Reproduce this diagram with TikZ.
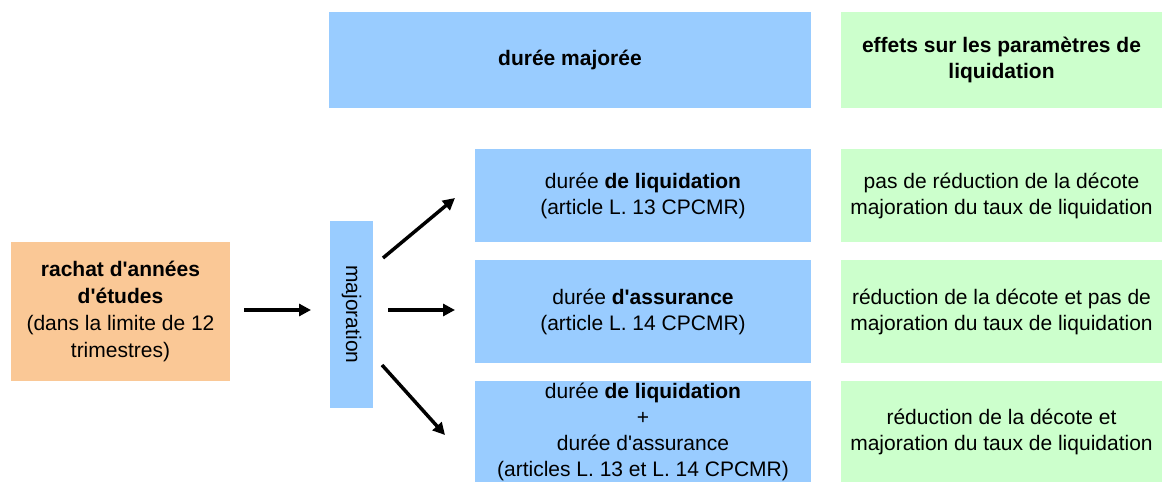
\documentclass[tikz,border=0pt]{standalone}
\usepackage{fontspec}
\setmainfont{Liberation Sans}
\usetikzlibrary{arrows.meta}
\definecolor{bleu}{RGB}{153,204,255}
\definecolor{vert}{RGB}{204,255,204}
\definecolor{saumon}{RGB}{250,200,150}
\newcommand{\ap}{\textquotesingle}
\tikzset{
	boite/.style={inner sep=0pt, outer sep=0pt, align=center, font=\fontsize{21}{26}\selectfont},
	bleue/.style={boite, fill=bleu},
	verte/.style={boite, fill=vert},
	fleche/.style={-{Triangle[length=12pt,width=12pt]}, line width=3.5pt}
}
\begin{document}
\begin{tikzpicture}[x=1pt,y=1pt]
				\useasboundingbox (0,0) rectangle (1162,482);
				
				% en-tetes
				\node[bleue, minimum width=482, minimum height=96] (entete) at (570,422) {\textbf{durée majorée}};
				\node[verte, minimum width=321, minimum height=96] (effets) at (1001.5,422) {\textbf{effets sur les paramètres de}\\\textbf{liquidation}};
				
				% rachat et majoration
				\node[boite, fill=saumon, minimum width=219, minimum height=139, font=\fontsize{21}{27}\selectfont] (rachat) at (120.5,170.5)
					{\textbf{rachat d\ap années}\\\textbf{d\ap études}\\(dans la limite de 12\\trimestres)};
				\node[bleue, minimum width=43, minimum height=187] (maj) at (351.5,167.5) {};
				\node[boite, rotate=-90] (majtxt) at (maj.center) {majoration};
				
				% durees
				\node[bleue, minimum width=336, minimum height=93] (liq) at (643,286.5)
					{durée \textbf{de liquidation}\\(article L. 13 CPCMR)};
				\node[bleue, minimum width=336, minimum height=103] (ass) at (643,170.5)
					{durée \textbf{d\ap assurance}\\(article L. 14 CPCMR)};
				\node[bleue, minimum width=336, minimum height=101] (deux) at (643,50.5)
					{durée \textbf{de liquidation}\\+\\durée d\ap assurance\\(articles L. 13 et L. 14 CPCMR)};
				
				% effets
				\node[verte, minimum width=321, minimum height=93] (eff1) at (1001.5,286.5)
					{pas de réduction de la décote\\majoration du taux de liquidation};
				\node[verte, minimum width=321, minimum height=103] (eff2) at (1001.5,170.5)
					{réduction de la décote et pas de\\majoration du taux de liquidation};
				\node[verte, minimum width=321, minimum height=101] (eff3) at (1001.5,50.5)
					{réduction de la décote et\\majoration du taux de liquidation};
				
				% fleches
				\coordinate (a1) at (244,172);
				\coordinate (b1) at (311,172);
				\coordinate (a2) at (383,224);
				\coordinate (b2) at (455,284);
				\coordinate (a3) at (388,172);
				\coordinate (b3) at (455,172);
				\coordinate (a4) at (382,117);
				\coordinate (b4) at (445,47);
				
				\draw[fleche] (a1)--(b1);
				\draw[fleche] (a2)--(b2);
				\draw[fleche] (a3)--(b3);
				\draw[fleche] (a4)--(b4);
\end{tikzpicture}
\end{document}
